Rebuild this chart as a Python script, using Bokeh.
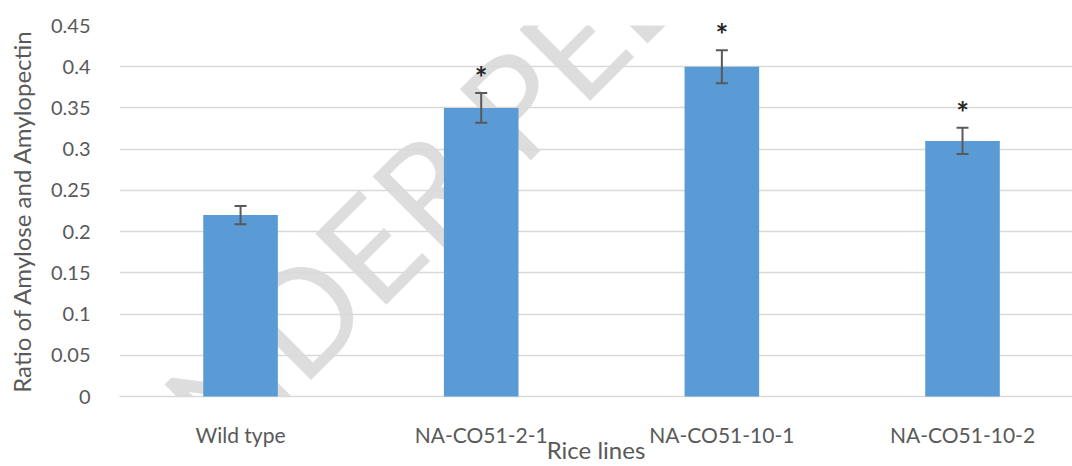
from bokeh.plotting import figure
from bokeh.models import Range1d, FixedTicker, Whisker, ColumnDataSource, TeeHead, Label
from bokeh.core.properties import value
from bokeh.embed import file_html
from bokeh.resources import INLINE

categories = ["Wild type", "NA-CO51-2-1", "NA-CO51-10-1", "NA-CO51-10-2"]
ratio = [0.22, 0.35, 0.40, 0.31]
err = [0.011, 0.018, 0.020, 0.016]
significant = ["", "*", "*", "*"]
y_ticks = [0, 0.05, 0.1, 0.15, 0.2, 0.25, 0.3, 0.35, 0.4, 0.45]
y_tick_labels = ["0", "0.05", "0.1", "0.15", "0.2", "0.25", "0.3", "0.35", "0.4", "0.45"]

xs = list(range(len(categories)))
src = ColumnDataSource(dict(
    x=xs, top=ratio,
    upper=[r + e for r, e in zip(ratio, err)],
    lower=[r - e for r, e in zip(ratio, err)],
    star=significant,
))

p = figure(width=1072, height=466, output_backend="svg", toolbar_location=None,
           x_range=Range1d(-0.503, 3.457), y_range=Range1d(0, 0.45),
           min_border_left=119, min_border_right=0, min_border_top=25, min_border_bottom=69)
p.outline_line_color = None
p.background_fill_color = "white"

FONT = "Lato"
TXT = "#595959"

# watermark (drawn at guide level so it is not clipped to the plot frame)
wm = Label(x=-0.520, y=-0.1246, x_units="data", y_units="data", text="UNDER PEER REVIEW",
           angle=45, angle_units="deg", text_font=FONT, text_font_size="140px",
           text_color="#d9d9d9", text_alpha=0.9, text_align="left", text_baseline="alphabetic",
           level="guide")
p.add_layout(wm)

p.vbar(x="x", top="top", width=0.31, bottom=0, source=src, fill_color="#5B9BD5",
       line_color=None, level="annotation")

wh = Whisker(base="x", upper="upper", lower="lower", source=src,
             line_color="#595959", line_width=2, level="annotation",
             upper_head=TeeHead(size=12, line_color="#595959", line_width=2),
             lower_head=TeeHead(size=12, line_color="#595959", line_width=2))
p.add_layout(wh)

p.text(x="x", y="upper", text="star", source=src, text_font=value(FONT), text_font_style="bold",
       text_font_size="30px", text_color="#262626", text_align="center", text_baseline="middle",
       y_offset=-16, level="annotation")

# axes
p.xaxis.ticker = FixedTicker(ticks=xs)
p.xaxis.major_label_overrides = dict(zip(xs, categories))
p.xaxis.major_tick_line_color = None
p.xaxis.minor_tick_line_color = None
p.xaxis.axis_line_color = "#d9d9d9"
p.xaxis.axis_line_width = 1.5
p.xaxis.major_label_standoff = 19
p.xaxis.major_label_text_font = FONT
p.xaxis.major_label_text_font_size = "21px"
p.xaxis.major_label_text_color = TXT
p.xaxis.axis_label = "Rice lines"
p.xaxis.axis_label_text_font = FONT
p.xaxis.axis_label_text_font_size = "24px"
p.xaxis.axis_label_text_font_style = "normal"
p.xaxis.axis_label_text_color = TXT
p.xaxis.axis_label_standoff = -15

p.yaxis.ticker = FixedTicker(ticks=y_ticks)
p.yaxis.major_label_overrides = dict(zip(y_ticks, y_tick_labels))
p.yaxis.major_tick_line_color = None
p.yaxis.minor_tick_line_color = None
p.yaxis.axis_line_color = None
p.yaxis.major_label_standoff = 23
p.yaxis.major_label_text_font = FONT
p.yaxis.major_label_text_font_size = "20px"
p.yaxis.major_label_text_color = TXT
p.yaxis.axis_label = "Ratio of Amylose and Amylopectin"
p.yaxis.axis_label_text_font = FONT
p.yaxis.axis_label_text_font_size = "24px"
p.yaxis.axis_label_text_font_style = "normal"
p.yaxis.axis_label_text_color = TXT
p.yaxis.axis_label_standoff = 12

p.xgrid.grid_line_color = None
p.ygrid.ticker = FixedTicker(ticks=y_ticks)
p.ygrid.grid_line_color = "#d9d9d9"
p.ygrid.grid_line_width = 1.5

open("out.html", "w").write(file_html(p, INLINE))
